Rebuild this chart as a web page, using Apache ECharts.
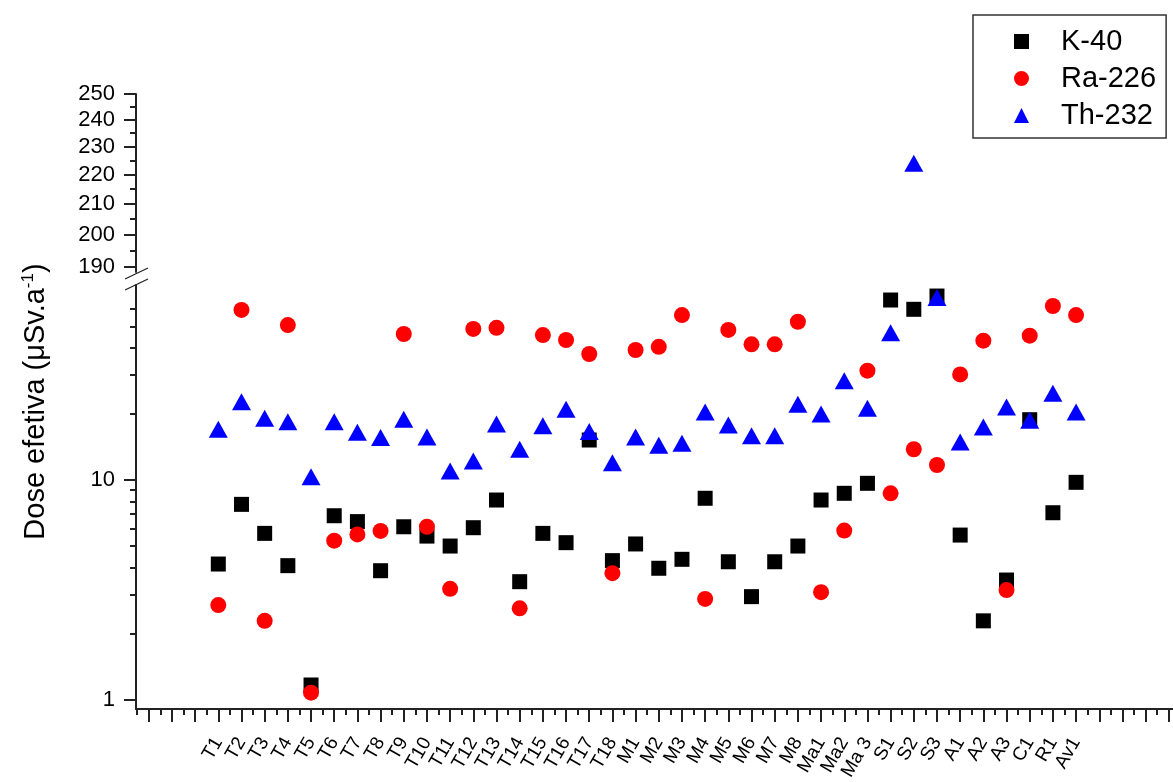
<!DOCTYPE html>
<html><head><meta charset="utf-8">
<script src="https://cdn.jsdelivr.net/npm/echarts@6/dist/echarts.min.js"></script>
<style>html,body{margin:0;padding:0;background:#fff}#c{width:1173px;height:782px}</style>
</head><body><div id="c"></div>
<script>
const categories = ["T1","T2","T3","T4","T5","T6","T7","T8","T9","T10","T11","T12","T13","T14","T15","T16","T17","T18",
  "M1","M2","M3","M4","M5","M6","M7","M8","Ma1","Ma2","Ma 3","S1","S2","S3","A1","A2","A3","C1","R1","Av1"];
const k40 = [4.15,7.75,5.72,4.08,1.17,6.88,6.47,3.87,6.13,5.56,5.01,6.07,8.11,3.45,5.72,5.19,15.2,4.30,
  5.12,3.97,4.36,8.26,4.25,2.95,4.25,5.01,8.11,8.70,9.66,65.8,59.7,68.6,5.62,2.29,3.51,18.8,7.10,9.76];
const ra226 = [2.70,59.3,2.29,50.6,1.08,5.30,5.66,5.87,46.1,6.13,3.20,48.6,49.2,2.61,45.6,43.3,37.4,3.77,
  39.0,40.3,56.2,2.88,48.1,41.4,41.4,52.4,3.09,5.89,31.4,8.70,13.8,11.7,30.2,43.0,3.16,45.3,61.8,56.2];
const th232 = [17.0,22.7,19.1,18.4,10.35,18.4,16.5,15.6,18.9,15.7,11.0,12.2,17.97,13.8,17.66,20.96,16.6,11.98,
  15.7,14.4,14.7,20.4,17.8,15.9,15.9,22.1,19.95,28.3,21.2,46.7,224,67.6,14.9,17.4,21.5,18.7,24.8,20.4];
const lowerMajorTicks = [1, 10];
const lowerMinorTicks = [2,3,4,5,6,7,8,9,20,30,40,50,60];
const upperMajorTicks = [190,200,210,220,230,240,250];
const upperMinorTicks = [195,205,215,225,235,245];
const xMajorTicks = []; for (let i = -2; i <= 43; i++) xMajorTicks.push(i);
const xMinorTicks = []; for (let i = -2.5; i <= 43; i += 1) xMinorTicks.push(i);
const xLabelTicks = categories.map((c, i) => i + 1);
const xRange = [-2.55, 43];
const lowerRange = [0.91, 77];
const upperRange = [188.5, 250];

const AX = '#222';
const FONT = 'Liberation Sans';
const chart = echarts.init(document.getElementById('c'), null, {renderer: 'canvas'});

function pts(arr, lo, hi) {
  return arr.map((v, i) => [i + 1, v]).filter(d => d[1] >= lo && d[1] <= hi);
}
const gridBase = {left: 136, width: 1056, outerBoundsMode: 'none', containLabel: false};

const seriesDefs = [
  {name: 'K-40', data: k40, symbol: 'rect', size: 15, color: '#000000'},
  {name: 'Ra-226', data: ra226, symbol: 'circle', size: 16, color: '#ff0000'},
  {name: 'Th-232', data: th232, symbol: 'triangle', size: [19, 17], color: '#0000ff'}
];
const series = [];
seriesDefs.forEach(s => {
  series.push({type: 'scatter', name: s.name, xAxisIndex: 1, yAxisIndex: 2, symbol: s.symbol, symbolSize: s.size,
    itemStyle: {color: s.color, opacity: 1}, data: pts(s.data, lowerRange[0], lowerRange[1]), silent: true});
  series.push({type: 'scatter', name: s.name, xAxisIndex: 0, yAxisIndex: 0, symbol: s.symbol, symbolSize: s.size,
    itemStyle: {color: s.color, opacity: 1}, data: pts(s.data, upperRange[0], upperRange[1]), silent: true});
});

const hidden = {show: false};
chart.setOption({
  animation: false,
  backgroundColor: '#fff',
  grid: [
    Object.assign({top: 94, height: 178}, gridBase),
    Object.assign({top: 285, height: 424}, gridBase),
    Object.assign({top: 94, height: 615}, gridBase)
  ],
  xAxis: [
    {gridIndex: 0, type: 'value', min: xRange[0], max: xRange[1], show: false},
    {gridIndex: 1, type: 'value', min: xRange[0], max: xRange[1], position: 'bottom',
      axisLine: {show: true, onZero: false, lineStyle: {color: AX, width: 2}},
      axisTick: {show: true, customValues: xMajorTicks, length: 13, lineStyle: {color: AX, width: 2}},
      axisLabel: {show: true, customValues: xLabelTicks, rotate: 60, margin: 30,
        formatter: v => categories[Math.round(v) - 1] || '', fontFamily: FONT, fontSize: 19, color: '#000'},
      splitLine: hidden},
    {gridIndex: 1, type: 'value', min: xRange[0], max: xRange[1], position: 'bottom',
      axisLine: {show: false, onZero: false},
      axisTick: {show: true, customValues: xMinorTicks, length: 6, lineStyle: {color: AX, width: 2}},
      axisLabel: hidden, splitLine: hidden},
    {gridIndex: 2, type: 'value', min: 0, max: 1, show: false}
  ],
  yAxis: [
    {gridIndex: 0, type: 'log', min: upperRange[0], max: upperRange[1], position: 'left',
      axisLine: {show: true, onZero: false, lineStyle: {color: AX, width: 2}},
      axisTick: {show: true, customValues: upperMajorTicks, length: 12, lineStyle: {color: AX, width: 2}},
      axisLabel: {show: true, customValues: upperMajorTicks, margin: 21, fontFamily: FONT, fontSize: 22, color: '#000'},
      splitLine: hidden},
    {gridIndex: 0, type: 'log', min: upperRange[0], max: upperRange[1], position: 'left',
      axisLine: {show: false, onZero: false},
      axisTick: {show: true, customValues: upperMinorTicks, length: 6, lineStyle: {color: AX, width: 2}},
      axisLabel: hidden, splitLine: hidden},
    {gridIndex: 1, type: 'log', min: lowerRange[0], max: lowerRange[1], position: 'left',
      axisLine: {show: true, onZero: false, lineStyle: {color: AX, width: 2}},
      axisTick: {show: true, customValues: lowerMajorTicks, length: 12, lineStyle: {color: AX, width: 2}},
      axisLabel: {show: true, customValues: lowerMajorTicks, margin: 21, fontFamily: FONT, fontSize: 22, color: '#000'},
      splitLine: hidden},
    {gridIndex: 1, type: 'log', min: lowerRange[0], max: lowerRange[1], position: 'left',
      axisLine: {show: false, onZero: false},
      axisTick: {show: true, customValues: lowerMinorTicks, length: 6, lineStyle: {color: AX, width: 2}},
      axisLabel: hidden, splitLine: hidden},
    {gridIndex: 2, type: 'value', min: 0, max: 1, position: 'left',
      axisLine: {show: false, onZero: false}, axisTick: hidden, axisLabel: hidden, splitLine: hidden,
      name: '{a|Dose efetiva (μSv.a}{s|-1}{a|)}', nameLocation: 'middle', nameGap: 84,
      nameTextStyle: {fontFamily: FONT, color: '#000', rich: {
        a: {fontFamily: FONT, fontSize: 29, color: '#000', lineHeight: 32},
        s: {fontFamily: FONT, fontSize: 17, color: '#000', verticalAlign: 'top', lineHeight: 19}
      }}}
  ],
  legend: {
    show: true, orient: 'vertical', left: 973, top: 15,
    data: ['K-40', 'Ra-226', 'Th-232'],
    itemWidth: 15, itemHeight: 15, itemGap: 8,
    padding: [12, 10, 8, 41],
    borderColor: '#333', borderWidth: 1.5, backgroundColor: '#fff',
    itemStyle: {opacity: 1},
    textStyle: {fontFamily: FONT, fontSize: 29, color: '#000', lineHeight: 29, padding: [0, 0, 0, 27]},
    selectedMode: false
  },
  graphic: [
    {type: 'line', shape: {x1: 125, y1: 279, x2: 148, y2: 268}, style: {stroke: AX, lineWidth: 1.3}, silent: true},
    {type: 'line', shape: {x1: 125, y1: 290, x2: 148, y2: 279}, style: {stroke: AX, lineWidth: 1.3}, silent: true}
  ],
  series: series
});
</script></body></html>
